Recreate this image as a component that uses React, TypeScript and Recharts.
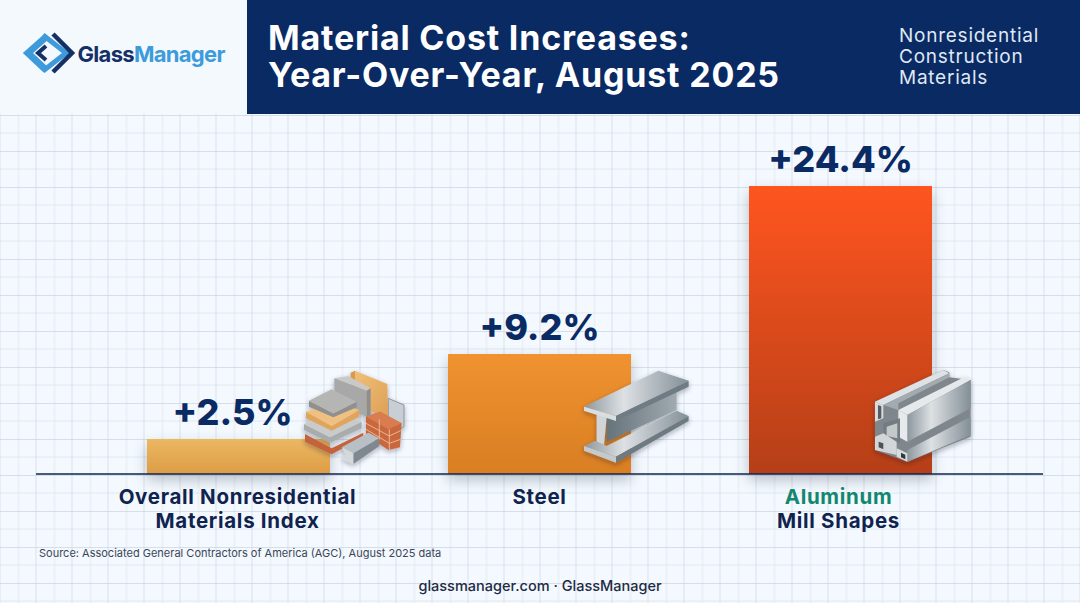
import * as React from 'react';
import { BarChart, Bar, XAxis, YAxis, Cell, LabelList } from 'recharts';

const categories = ['Overall Nonresidential|Materials Index', 'Steel', 'Aluminum|Mill Shapes'];
const percentLabels = ['+2.5%', '+9.2%', '+24.4%'];
// the picture's bars are not strictly to scale with their labels, so these are the heights as drawn
const drawnHeights = [2.97, 10.17, 24.4];
const gradientIds = ['barIndex', 'barSteel', 'barAlu'];

const titleLines = ['Material Cost Increases:', 'Year-Over-Year, August 2025'];
const sideLines = ['Nonresidential', 'Construction', 'Materials'];
const sourceText = 'Source: Associated General Contractors of America (AGC), August 2025 data';
const footerText = 'glassmanager.com · GlassManager';

const data = categories.map((name, i) => ({ name, height: drawnHeights[i], label: percentLabels[i] }));

const NAVY = '#0a2a63';
const FONT = 'Inter, "Noto Sans", sans-serif';

function CategoryTick(props: any) {
  const { x, y, payload } = props;
  const lines = String(payload.value).split('|');
  const shift = payload.value.startsWith('Overall') ? -1 : payload.value.startsWith('Aluminum') ? -2 : 0;
  return (
    <g>
      {lines.map((line: string, i: number) => (
        <text
          key={line}
          x={x + shift}
          y={y + 22 + i * 24}
          textAnchor="middle"
          fontFamily={FONT}
          fontWeight={700}
          fontSize={20.5}
          letterSpacing={0.7}
          fill={line === 'Aluminum' ? '#12866f' : '#10234f'}
        >
          {line}
        </text>
      ))}
    </g>
  );
}

// the first value label sits a little left of its bar centre
function PercentLabel(props: any) {
  const { x, y, width, value, index } = props;
  return (
    <text
      x={x + width / 2 + (index === 0 ? -6 : 0)}
      y={y - 14}
      textAnchor="middle"
      fontFamily={FONT}
      fontWeight={800}
      fontSize={36}
      fill={NAVY}
    >
      {value}
    </text>
  );
}

function GridBackground() {
  return (
    <svg width={1080} height={603} style={{ position: 'absolute', left: 0, top: 0 }}>
      <defs>
        <pattern id="gridCell" x={0.5} y={7} width={36} height={36} patternUnits="userSpaceOnUse">
          <path d="M18 0V36M0 18H36" stroke="#e2e8f0" strokeWidth={1} fill="none" />
          <path d="M36 0V36M0 0H36" stroke="#cdd5e1" strokeWidth={1.3} fill="none" />
        </pattern>
      </defs>
      <rect width={1080} height={603} fill="#f3f9fe" />
      <rect y={114} width={1080} height={489} fill="url(#gridCell)" />
    </svg>
  );
}

function Header() {
  return (
    <svg width={1080} height={115} style={{ position: 'absolute', left: 0, top: 0 }}>
      <rect width={247} height={114} fill="#f4f9fe" />
      <rect x={247} width={833} height={114} fill={NAVY} />
      <g fill="none" strokeLinejoin="miter">
        <path d="M46 37 L28 53 L46 70" stroke="#3d9bdc" strokeWidth={7} />
        <path d="M43 35 L66 53 L43 71" stroke="#3d9bdc" strokeWidth={5} />
        <path d="M53 34 L72 53 L53 72" stroke="#143067" strokeWidth={4.5} />
        <path d="M46 46 L38 53 L46 60" stroke="#143067" strokeWidth={4} />
      </g>
      <text x={77.5} y={62} fontFamily={FONT} fontWeight={700} fontSize={22} letterSpacing={-0.7}>
        <tspan fill="#143067">Glass</tspan>
        <tspan fill="#3d9bdc">Manager</tspan>
      </text>
      {titleLines.map((line, i) => (
        <text key={line} x={268} y={50 + i * 37} fontFamily={FONT} fontWeight={700} fontSize={34} letterSpacing={0.8} fill="#ffffff">
          {line}
        </text>
      ))}
      {sideLines.map((line, i) => (
        <text key={line} x={899} y={42 + i * 21} fontFamily={FONT} fontSize={19} letterSpacing={0.75} fill="#dfe8f4">
          {line}
        </text>
      ))}
    </svg>
  );
}

// small illustrations sitting on the bars, drawn in zoomed crop coordinates
function MaterialsIcon() {
  return (
    <g transform="translate(100 360) scale(0.3333)" filter="url(#iconShadow)">
      <polygon points="865,115 912,135 912,200 865,225" fill="#c8ced3" stroke="#8f979d" strokeWidth={3} />
      <polygon points="752,38 765,32 765,130 752,135" fill="#d99a4c" />
      <polygon points="765,32 862,72 865,175 765,135" fill="url(#tan)" />
      <polygon points="703,55 745,48 812,85 800,92" fill="#c9c9c7" />
      <polygon points="703,55 800,92 800,170 703,130" fill="#a7a8a7" />
      <polygon points="800,92 812,85 812,165 800,170" fill="#8d8e8e" />
      <polygon points="615,222 695,265 790,218 790,232 695,283 615,245" fill="#c4633b" />
      <polygon points="612,192 690,232 785,185 785,205 690,248 612,210" fill="#a9acad" />
      <polygon points="612,192 695,150 785,185 690,232" fill="#c9cbcb" />
      <polygon points="618,155 695,198 778,150 778,170 695,212 618,175" fill="#e0a45c" />
      <polygon points="618,155 700,125 778,150 695,198" fill="#efc07f" />
      <polygon points="627,122 700,160 770,125 770,142 700,172 627,140" fill="#8f9090" />
      <polygon points="627,122 695,88 770,125 700,160" fill="#b5b5b3" />
      <polygon points="798,170 840,155 905,190 900,262 865,270 798,225" fill="#c9673e" />
      <polygon points="840,155 905,190 865,208 798,170" fill="#d97c50" />
      <path d="M798 190L868 228L902 212M798 208L868 250L902 238M838 178L838 240M868 208V270" stroke="#f0c4a6" strokeWidth={2.5} fill="none" />
      <polygon points="725,262 805,218 838,235 760,280" fill="#b9c0c5" />
      <polygon points="760,280 838,235 838,258 760,312" fill="#7f888e" />
      <polygon points="725,262 760,280 760,312 722,295 740,285" fill="#d4d9dc" />
    </g>
  );
}

function BeamIcon() {
  return (
    <g transform="translate(430 340) scale(0.3333)" filter="url(#iconShadow)">
      <polygon points="530,232 740,150 740,210 530,305" fill="url(#steelDark)" />
      <polygon points="500,220 530,232 522,315 500,305" fill="#cfd5d9" />
      <polygon points="462,318 495,303 530,318 740,212 776,228 558,350" fill="url(#steelFace)" />
      <polygon points="462,318 558,350 558,368 462,332" fill="#c3c9cd" />
      <polygon points="558,350 776,228 776,243 558,368" fill="#6e7a82" />
      <polygon points="462,200 685,92 776,122 558,228" fill="url(#steelFace)" />
      <polygon points="462,200 558,228 558,243 462,212" fill="#d9dee1" />
      <polygon points="558,228 776,122 776,140 558,243" fill="#6f7b83" />
    </g>
  );
}

function ExtrusionIcon() {
  return (
    <g transform="translate(720 340) scale(0.3333)" filter="url(#iconShadow)">
      <polygon points="465,185 670,90 688,97 688,112 752,120 752,290 562,365 465,330" fill="#7f878d" />
      <polygon points="465,185 490,195 688,100 670,90" fill="#dfe2e4" />
      <polygon points="490,195 688,100 688,112 535,190 535,210" fill="#a4abb0" />
      <polygon points="535,210 735,110 752,120 562,225" fill="#e6e9eb" />
      <polygon points="562,225 752,120 752,205 562,305" fill="url(#steelFace)" />
      <polygon points="535,210 562,225 562,305 535,290" fill="#e7eaec" />
      <polygon points="562,330 752,230 752,285 562,365" fill="url(#steelFace)" />
      <polygon points="465,185 490,195 490,235 465,245" fill="#d8dcdf" />
      <polygon points="474,195 484,199 484,235 474,238" fill="#555c61" />
      <polygon points="490,250 540,235 540,310 490,300" fill="#737b81" />
      <polygon points="500,260 532,250 532,295 500,288" fill="#c3c8cb" />
      <polygon points="465,290 490,280 530,305 530,345 465,330" fill="#d2d6d9" />
      <polygon points="476,305 490,310 490,328 476,322" fill="#4c5358" />
      <polygon points="530,325 562,340 562,365 530,350" fill="#d8dcdf" />
      <polygon points="543,338 556,344 556,358 543,352" fill="#33383c" />
    </g>
  );
}

function IconOverlay() {
  return (
    <svg width={1080} height={603} style={{ position: 'absolute', left: 0, top: 0, pointerEvents: 'none' }}>
      <defs>
        <linearGradient id="tan" x1="0" y1="0" x2="1" y2="1">
          <stop offset="0%" stopColor="#f0c078" />
          <stop offset="100%" stopColor="#dd9f56" />
        </linearGradient>
        <linearGradient id="steelFace" x1="0" y1="0" x2="1" y2="0">
          <stop offset="0%" stopColor="#8c979e" />
          <stop offset="38%" stopColor="#dde1e4" />
          <stop offset="100%" stopColor="#838f96" />
        </linearGradient>
        <linearGradient id="steelDark" x1="0" y1="0" x2="1" y2="0">
          <stop offset="0%" stopColor="#66737b" />
          <stop offset="100%" stopColor="#a0aab0" />
        </linearGradient>
        <filter id="iconShadow" x="-20%" y="-20%" width="140%" height="140%">
          <feDropShadow dx={0} dy={6} stdDeviation={8} floodColor="#1a2433" floodOpacity={0.35} />
        </filter>
      </defs>
      <MaterialsIcon />
      <BeamIcon />
      <ExtrusionIcon />
    </svg>
  );
}

export default function App() {
  return (
    <div style={{ position: 'absolute', left: 0, top: 0, width: 1080, height: 603, overflow: 'hidden' }}>
      <style>{'body{margin:0}'}</style>
      <GridBackground />
      <Header />
      <div style={{ position: 'absolute', left: 0, top: 0 }}>
        <BarChart
          width={1080}
          height={603}
          data={data}
          margin={{ top: 186, right: 37, bottom: 0, left: 36 }}
        >
          <defs>
            <linearGradient id="barIndex" x1="0" y1="0" x2="0" y2="1">
              <stop offset="0%" stopColor="#ecb762" />
              <stop offset="100%" stopColor="#dc9d45" />
            </linearGradient>
            <linearGradient id="barSteel" x1="0" y1="0" x2="0" y2="1">
              <stop offset="0%" stopColor="#f09230" />
              <stop offset="100%" stopColor="#d97f22" />
            </linearGradient>
            <linearGradient id="barAlu" x1="0" y1="0" x2="0" y2="1">
              <stop offset="0%" stopColor="#ff551f" />
              <stop offset="100%" stopColor="#b53f17" />
            </linearGradient>
          </defs>
          <YAxis hide domain={[0, 24.4]} />
          <XAxis
            dataKey="name"
            height={129}
            padding={{ left: 52, right: 52 }}
            tickLine={false}
            axisLine={{ stroke: '#10234f', strokeWidth: 1.5 }}
            tick={<CategoryTick />}
            interval={0}
          />
          <Bar
            dataKey="height"
            barSize={183}
            isAnimationActive={false}
            style={{ filter: 'drop-shadow(0 6px 7px rgba(30,40,60,0.28))' }}
          >
            {data.map((d, i) => (
              <Cell key={d.name} fill={`url(#${gradientIds[i]})`} />
            ))}
            <LabelList dataKey="label" content={<PercentLabel />} />
          </Bar>
        </BarChart>
      </div>
      <IconOverlay />
      <svg width={1080} height={603} style={{ position: 'absolute', left: 0, top: 0, pointerEvents: 'none' }}>
        <text x={39} y={557} fontFamily={FONT} fontSize={11} fill="#3b4658">
          {sourceText}
        </text>
        <text x={540} y={591} textAnchor="middle" fontFamily={FONT} fontWeight={500} fontSize={14.5} fill="#1e2b44">
          {footerText}
        </text>
      </svg>
    </div>
  );
}
